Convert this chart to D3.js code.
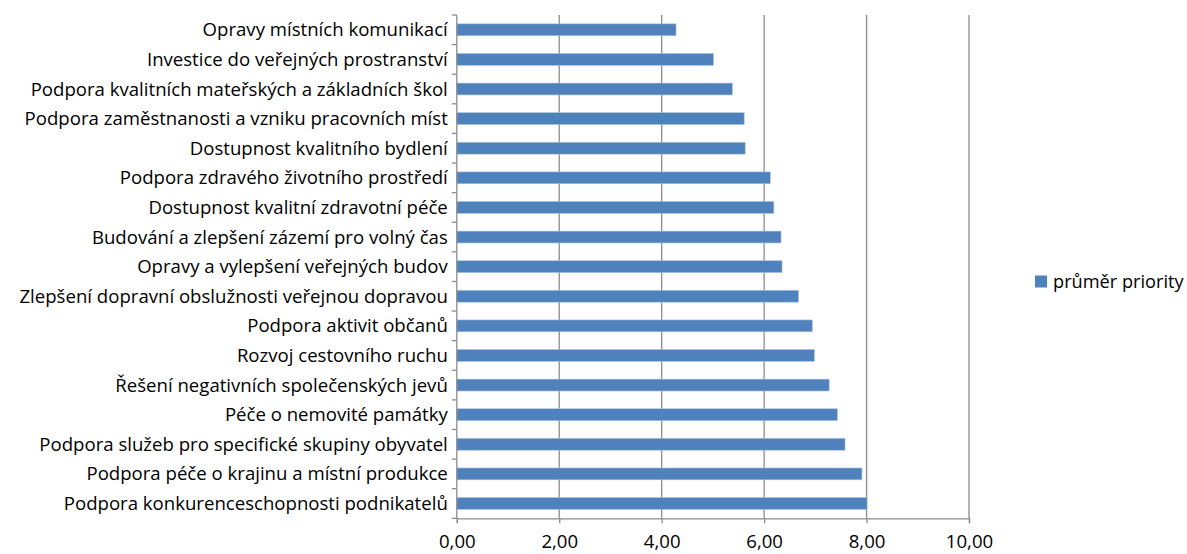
<!DOCTYPE html>
<html><head><meta charset="utf-8">
<script src="https://cdn.jsdelivr.net/npm/d3@7"></script>
<style>body{margin:0;background:#fff;} text{font-family:"Open Sans",sans-serif;fill:#000;}</style>
</head><body>
<svg id="c" width="1187" height="554"></svg>
<script>
const categories = [
"Opravy místních komunikací",
"Investice do veřejných prostranství",
"Podpora kvalitních mateřských a základních škol",
"Podpora zaměstnanosti a vzniku pracovních míst",
"Dostupnost kvalitního bydlení",
"Podpora zdravého životního prostředí",
"Dostupnost kvalitní zdravotní péče",
"Budování a zlepšení zázemí pro volný čas",
"Opravy a vylepšení veřejných budov",
"Zlepšení dopravní obslužnosti veřejnou dopravou",
"Podpora aktivit občanů",
"Rozvoj cestovního ruchu",
"Řešení negativních společenských jevů",
"Péče o nemovité památky",
"Podpora služeb pro specifické skupiny obyvatel",
"Podpora péče o krajinu a místní produkce",
"Podpora konkurenceschopnosti podnikatelů"];
const values = [4.28,5.01,5.38,5.61,5.63,6.12,6.19,6.33,6.35,6.67,6.94,6.98,7.27,7.43,7.58,7.91,8.01];
const xTicks = [0,2,4,6,8,10];
const seriesName = "průměr priority";

const svg = d3.select("#c");
const L=456.8, R=969, T=15, B=518.3;
const FS=18.6;
const x = d3.scaleLinear().domain([0,10]).range([L,R]);
const y = d3.scaleBand().domain(categories).range([T,B]).paddingInner(0.6).paddingOuter(0.3);
const grid="#8c8c8c";
// gridlines
svg.append("g").selectAll("line").data(xTicks.slice(1)).join("line")
 .attr("x1",d=>x(d)).attr("x2",d=>x(d)).attr("y1",T).attr("y2",B)
 .attr("stroke",grid).attr("stroke-width",1.3);
// bars
svg.append("g").selectAll("rect").data(values).join("rect")
 .attr("x",x(0)).attr("y",(d,i)=>y(categories[i]))
 .attr("width",d=>x(d)-x(0)).attr("height",y.bandwidth())
 .attr("fill","#4f81bd").attr("stroke","#a7c0e0").attr("stroke-width",0.6);
// bottom axis
const xa = svg.append("g").attr("transform",`translate(0,${B})`)
 .call(d3.axisBottom(x).tickValues(xTicks).tickSize(5).tickFormat(d=>d3.format(".2f")(d).replace(".",",")));
xa.select(".domain").attr("stroke",grid).attr("stroke-width",1.3);
xa.selectAll(".tick line").attr("stroke",grid).attr("stroke-width",1.3);
xa.selectAll("text").attr("font-size",FS).attr("y",0).attr("dy",29.5).style("font-family","'Open Sans',sans-serif").attr("fill","#000");
// left axis line + ticks at band edges
const yb = d3.scaleLinear().domain([0,categories.length]).range([T,B]);
svg.append("line").attr("x1",L).attr("x2",L).attr("y1",T).attr("y2",B).attr("stroke",grid).attr("stroke-width",1.3);
svg.append("g").selectAll("line").data(d3.range(categories.length+1)).join("line")
 .attr("x1",L-5).attr("x2",L).attr("y1",d=>yb(d)).attr("y2",d=>yb(d)).attr("stroke",grid).attr("stroke-width",1.3);
// labels
svg.append("g").selectAll("text").data(categories).join("text")
 .attr("x",L-9).attr("y",d=>y(d)+y.bandwidth()/2).attr("dy","0.35em")
 .attr("text-anchor","end").attr("font-size",FS).text(d=>d);
// legend
svg.append("rect").attr("x",1035).attr("y",275.5).attr("width",12).attr("height",12).attr("fill","#4f81bd");
svg.append("text").attr("x",1053).attr("y",288).attr("font-size",18.2).text(seriesName);
</script>
</body></html>
